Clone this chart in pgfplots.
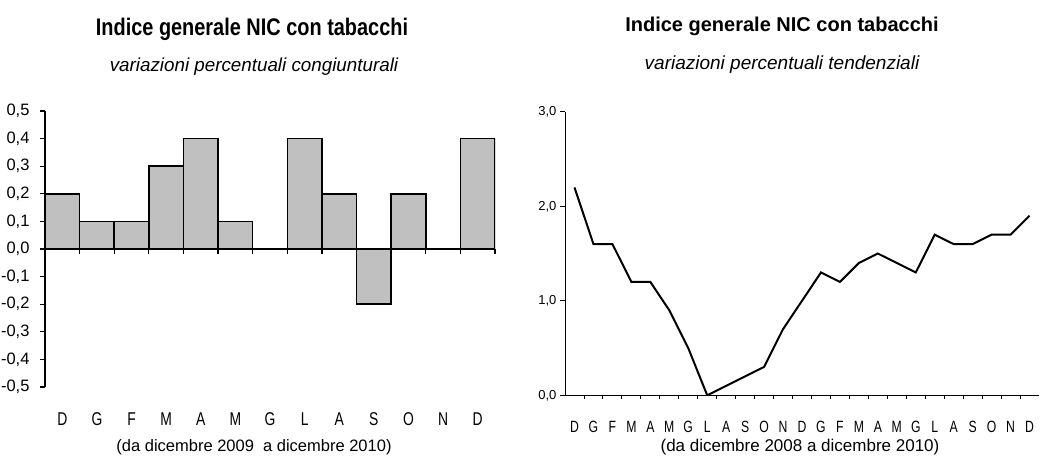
\documentclass[border=0pt]{standalone}
\usepackage{pgfplots}
\pgfplotsset{compat=1.18}
\usepackage{fontspec}
\setmainfont{Liberation Sans}
\newfontfamily\narrowfont[FakeStretch=0.83]{Liberation Sans}
\newfontfamily\tickfont[FakeStretch=0.75]{Liberation Sans}
\definecolor{barfill}{RGB}{192,192,192}

\pgfplotstableread{
x y
0 0.2
1 0.1
2 0.1
3 0.3
4 0.4
5 0.1
6 0.0
7 0.4
8 0.2
9 -0.2
10 0.2
11 0.0
12 0.4
}\congiunturali

\pgfplotstableread{
x y
0 2.2
1 1.6
2 1.6
3 1.2
4 1.2
5 0.9
6 0.5
7 0.0
8 0.1
9 0.2
10 0.3
11 0.7
12 1.0
13 1.3
14 1.2
15 1.4
16 1.5
17 1.4
18 1.3
19 1.7
20 1.6
21 1.6
22 1.7
23 1.7
24 1.9
}\tendenziali

\begin{document}
\begin{tikzpicture}
\path[use as bounding box] (0pt,0pt) rectangle (1040pt,455pt);

% ---------- left chart ----------
\begin{axis}[
  at={(45pt,68pt)}, anchor=south west,
  scale only axis, width=450pt, height=276pt,
  xmin=-0.5, xmax=12.5, ymin=-0.5, ymax=0.5,
  axis y line=left, axis x line=middle,
  axis line style={-, line width=1.5pt, black},
  tick align=outside,
  xtick={0,...,12},
  xticklabels={D,G,F,M,A,M,G,L,A,S,O,N,D},
  major x tick style={draw=none},
  minor xtick={0.5,1.5,...,12.5},
  minor tick length=5pt, major tick length=5pt,
  tick style={black, line width=1.2pt},
  ytick={-0.5,-0.4,-0.3,-0.2,-0.1,0,0.1,0.2,0.3,0.4,0.5},
  yticklabels={{-0,5},{-0,4},{-0,3},{-0,2},{-0,1},{0,0},{0,1},{0,2},{0,3},{0,4},{0,5}},
  xticklabel style={font=\tickfont\fontsize{18.5}{20}\selectfont, anchor=base, yshift=-171pt},
  yticklabel style={font=\fontsize{16.5}{19}\selectfont, xshift=-7pt},
]
\addplot[ybar, bar width=1, fill=barfill, draw=black, line width=1.5pt] table[x=x,y=y] {\congiunturali};
\end{axis}

% ---------- right chart ----------
\begin{axis}[
  at={(565pt,59.7pt)}, anchor=south west,
  scale only axis, width=474pt, height=283.5pt,
  xmin=-0.5, xmax=24.5, ymin=0, ymax=3,
  axis x line=bottom, axis y line=left,
  axis line style={-, line width=1pt, black},
  tick align=outside,
  xtick={0,...,24},
  xticklabels={D,G,F,M,A,M,G,L,A,S,O,N,D,G,F,M,A,M,G,L,A,S,O,N,D},
  major x tick style={draw=none},
  minor xtick={0.5,1.5,...,23.5},
  minor tick length=4pt, major tick length=5pt,
  tick style={black, line width=0.9pt},
  ytick={0,1,2,3},
  yticklabels={{0,0},{1,0},{2,0},{3,0}},
  xticklabel style={font=\tickfont\fontsize{16.3}{18}\selectfont, anchor=base, yshift=-31.7pt},
  yticklabel style={font=\fontsize{13}{15}\selectfont},
]
\addplot[black, line width=2pt, mark=none] table[x=x,y=y] {\tendenziali};
\end{axis}

% ---------- titles ----------
\node[anchor=base, font=\narrowfont\bfseries\fontsize{24}{28}\selectfont] at (252pt,419pt) {Indice generale NIC con tabacchi};
\node[anchor=base, font=\itshape\fontsize{18.8}{22}\selectfont] at (254pt,383pt) {variazioni percentuali congiunturali};
\node[anchor=base, font=\bfseries\fontsize{20}{24}\selectfont] at (782pt,423pt) {Indice generale NIC con tabacchi};
\node[anchor=base, font=\itshape\fontsize{19}{22}\selectfont] at (782pt,385pt) {variazioni percentuali tendenziali};
\node[anchor=base, font=\fontsize{16.5}{20}\selectfont] at (254pt,4pt) {(da dicembre 2009\ \ a dicembre 2010)};
\node[anchor=base, font=\fontsize{17}{20}\selectfont] at (800pt,4pt) {(da dicembre 2008 a dicembre 2010)};
\end{tikzpicture}
\end{document}
